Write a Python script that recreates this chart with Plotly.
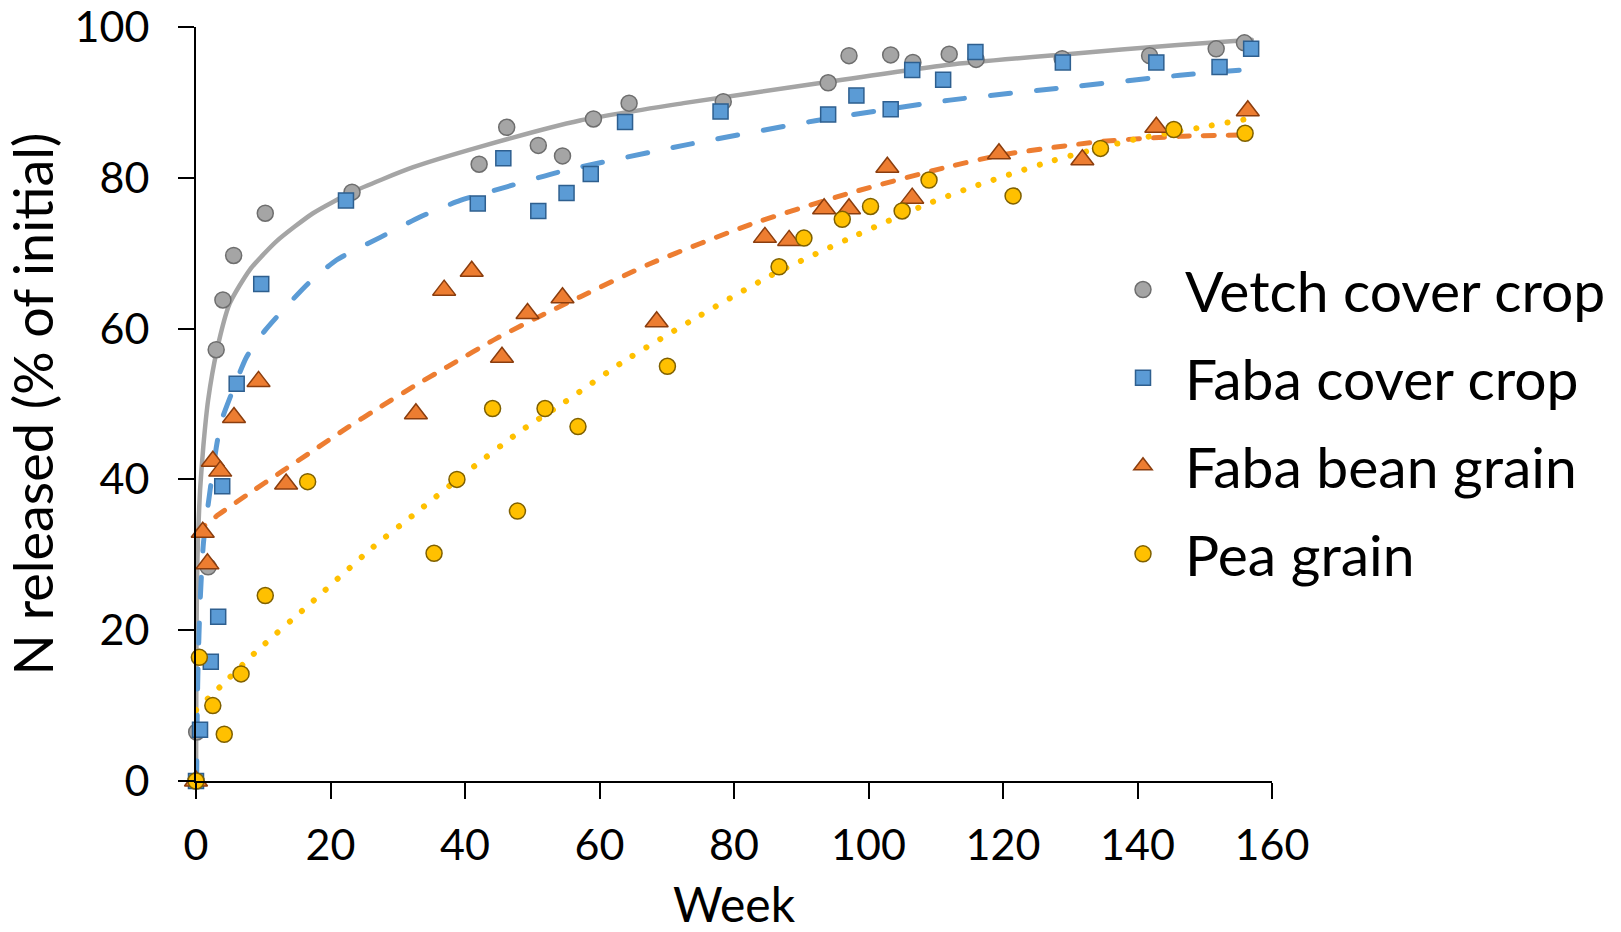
import plotly.graph_objects as go

# ---- observed data (week, % N released) ----
vetch_week = [0, 0.1, 1.8, 3.0, 4.0, 5.6, 10.3, 23.2, 42.1, 46.2, 50.9, 54.5, 59.1, 64.4, 78.4,
              94.0, 97.1, 103.3, 106.6, 112.0, 116.0, 128.8, 141.8, 151.7, 155.9]
vetch_n = [0, 6.5, 28.4, 57.2, 63.8, 69.7, 75.3, 78.1, 81.8, 86.7, 84.3, 82.9, 87.8, 89.9, 90.1,
           92.6, 96.2, 96.3, 95.3, 96.4, 95.7, 95.8, 96.2, 97.1, 97.9]

faba_cc_week = [0, 0.6, 2.2, 3.3, 3.9, 6.05, 9.7, 22.3, 41.9, 45.7, 50.9, 55.1, 58.7, 63.8, 78.0,
                94.0, 98.2, 103.3, 106.5, 111.1, 115.9, 128.9, 142.8, 152.2, 156.9]
faba_cc_n = [0, 6.8, 15.8, 21.8, 39.1, 52.7, 65.9, 77.0, 76.6, 82.6, 75.6, 78.0, 80.5, 87.4, 88.8,
             88.4, 90.9, 89.1, 94.3, 93.0, 96.7, 95.3, 95.3, 94.7, 97.1]

faba_grain_week = [0, 1.0, 1.7, 2.5, 3.6, 5.65, 9.3, 13.4, 32.7, 36.9, 41.0, 45.5, 49.3, 54.5, 68.5,
                   84.6, 88.2, 93.4, 97.1, 102.8, 106.5, 119.4, 131.8, 142.8, 156.4]
faba_grain_n = [0, 33.0, 28.8, 42.4, 41.1, 48.2, 53.0, 39.4, 48.7, 65.1, 67.6, 56.2, 62.0, 64.1, 60.9,
                72.1, 71.7, 75.9, 75.9, 81.4, 77.3, 83.2, 82.4, 86.7, 88.9]

pea_week = [0, 0.5, 2.5, 4.2, 6.7, 10.3, 16.6, 35.4, 38.8, 44.1, 47.8, 51.9, 56.8, 70.1, 86.7,
            90.4, 96.1, 100.3, 105.0, 109.0, 121.5, 134.5, 145.4, 156.0]
pea_n = [0, 16.4, 10.0, 6.2, 14.2, 24.6, 39.7, 30.2, 40.0, 49.4, 35.8, 49.4, 47.0, 55.0, 68.2,
         72.0, 74.5, 76.2, 75.6, 79.7, 77.6, 83.9, 86.4, 85.9]

# ---- trendlines ----
vetch_fit_week = [0.01, 0.05, 0.1, 0.2, 0.35, 0.6, 1.1, 1.8, 3.1, 5.0, 8.0, 12.0, 17.4, 23.2, 32.3,
                  42.2, 57.1, 72.5, 92.3, 112.0, 129.5, 146.0, 157.0]
vetch_fit_n = [0, 15.0, 22.0, 29.0, 33.5, 38.5, 44.5, 50.5, 57.1, 63.3, 67.8, 71.6, 75.3, 78.1, 81.4,
               84.1, 87.6, 89.9, 92.5, 95.0, 96.4, 97.6, 98.3]

faba_cc_fit_week = [0.09, 0.2, 0.3, 0.6, 1.1, 2.1, 3.1, 3.8, 5.3, 7.5, 10.3, 16.7, 20.9, 27.4, 33.3,
                    39.3, 46.2, 54.1, 72.5, 92.3, 112.1, 129.5, 146.3, 156.9]
faba_cc_fit_n = [0, 10.0, 15.0, 23.5, 31.5, 38.6, 44.7, 47.8, 51.4, 56.2, 59.8, 66.0, 69.1, 72.1, 74.8,
                 77.0, 78.8, 80.8, 84.3, 87.6, 90.3, 92.0, 93.6, 94.4]

faba_grain_fit_week = [0, 3.3, 7.5, 13.0, 17.4, 22.4, 27.4, 32.3, 37.3, 44.7, 52.4, 57.1, 67.5, 82.4,
                       97.3, 111.6, 119.6, 134.4, 146.3, 156.9]
faba_grain_fit_n = [33.0, 35.3, 37.9, 41.2, 43.8, 46.8, 49.6, 52.3, 54.9, 58.7, 62.2, 64.2, 68.6, 73.8,
                    78.0, 81.4, 83.0, 84.8, 85.5, 85.7]

pea_fit_week = [0, 3.6, 9.0, 16.7, 26.3, 32.2, 40.3, 48.4, 54.9, 63.5, 74.5, 85.6, 97.0, 108.4,
                115.5, 127.5, 139.6, 149.5, 156.9]
pea_fit_n = [9.4, 12.5, 17.2, 23.3, 31.0, 35.2, 41.0, 46.5, 50.3, 55.6, 61.5, 67.1, 71.9, 76.4,
             78.8, 82.3, 85.1, 86.7, 87.9]

x_ticks = [0, 20, 40, 60, 80, 100, 120, 140, 160]
y_ticks = [0, 20, 40, 60, 80, 100]

GREY, GREY_D = "#A5A5A5", "#6E6E6E"
BLUE, BLUE_D = "#5B9BD5", "#2E5F8F"
ORANGE, ORANGE_D = "#ED7D31", "#8A3D0E"
YELLOW, YELLOW_D = "#FFC000", "#7F6000"

fig = go.Figure()

# trendlines first (drawn beneath markers)
fig.add_trace(go.Scatter(x=vetch_fit_week, y=vetch_fit_n, mode="lines", showlegend=False,
                         line=dict(color=GREY, width=4.5, shape="spline", smoothing=0.6),
                         hoverinfo="skip"))
fig.add_trace(go.Scatter(x=faba_cc_fit_week, y=faba_cc_fit_n, mode="lines", showlegend=False,
                         line=dict(color=BLUE, width=5, dash="20px,26px", shape="spline", smoothing=0.6),
                         hoverinfo="skip"))
fig.add_trace(go.Scatter(x=faba_grain_fit_week, y=faba_grain_fit_n, mode="lines", showlegend=False,
                         line=dict(color=ORANGE, width=5, dash="11px,14px", shape="spline", smoothing=0.6),
                         hoverinfo="skip"))
fig.add_trace(go.Scatter(x=pea_fit_week, y=pea_fit_n, mode="lines", showlegend=False,
                         line=dict(color=YELLOW, width=6, dash="0.1px,16px", shape="spline", smoothing=0.6),
                         hoverinfo="skip"))

fig.add_trace(go.Scatter(x=vetch_week, y=vetch_n, mode="markers", name="Vetch cover crop",
                         legendgroup="a", cliponaxis=False,
                         marker=dict(symbol="circle", size=16, color=GREY,
                                     line=dict(color=GREY_D, width=1.5))))
fig.add_trace(go.Scatter(x=faba_cc_week, y=faba_cc_n, mode="markers", name="Faba cover crop",
                         legendgroup="b", cliponaxis=False,
                         marker=dict(symbol="square", size=15, color=BLUE,
                                     line=dict(color=BLUE_D, width=1.5))))
fig.add_trace(go.Scatter(x=faba_grain_week, y=faba_grain_n, mode="markers", name="Faba bean grain",
                         legendgroup="c", cliponaxis=False,
                         marker=dict(symbol="triangle-up", size=20, color=ORANGE,
                                     line=dict(color=ORANGE_D, width=1.5))))
fig.add_trace(go.Scatter(x=pea_week, y=pea_n, mode="markers", name="Pea grain",
                         legendgroup="d", cliponaxis=False,
                         marker=dict(symbol="circle", size=16, color=YELLOW,
                                     line=dict(color=YELLOW_D, width=1.5))))

axis_common = dict(showline=True, linecolor="black", linewidth=2, ticks="outside",
                   ticklen=16, tickwidth=2, tickcolor="black", showgrid=False, zeroline=False,
                   automargin=False, ticklabeloverflow="allow",
                   tickfont=dict(family="Lato", size=43, color="black"))

fig.update_layout(
    width=1621, height=932,
    margin=dict(l=196, r=349, t=27, b=151, autoexpand=False),
    paper_bgcolor="white", plot_bgcolor="white",
    font=dict(family="Lato", color="black"),
    xaxis=dict(range=[0, 160], tickvals=x_ticks, ticktext=[str(v) for v in x_ticks],
               title=dict(text="Week", font=dict(family="Lato", size=48, color="black"), standoff=31),
               ticklabelstandoff=9,
               **axis_common),
    yaxis=dict(range=[0, 100], tickvals=y_ticks, ticktext=[str(v) for v in y_ticks],
               title=dict(text="N released (% of initial)", font=dict(family="Lato", size=54, color="black"),
                          standoff=17),
               ticklabelstandoff=20,
               **axis_common),
    legend=dict(xref="container", yref="container", x=1101 / 1621, y=1 - 246 / 932,
                xanchor="left", yanchor="top", bgcolor="rgba(0,0,0,0)",
                font=dict(family="Lato", size=57, color="black"), tracegroupgap=11,
                itemwidth=74),
)

post = """
document.body.style.margin = '0';
var gd = document.getElementById('{plot_id}');
function rc(){ document.querySelectorAll('.scatterlayer .js-line').forEach(function(p){ p.style.strokeLinecap='round'; }); }
rc();
if (gd && gd.on) { gd.on('plotly_afterplot', rc); }
"""
fig.write_html("out.html", post_script=post, config={"displayModeBar": False})
